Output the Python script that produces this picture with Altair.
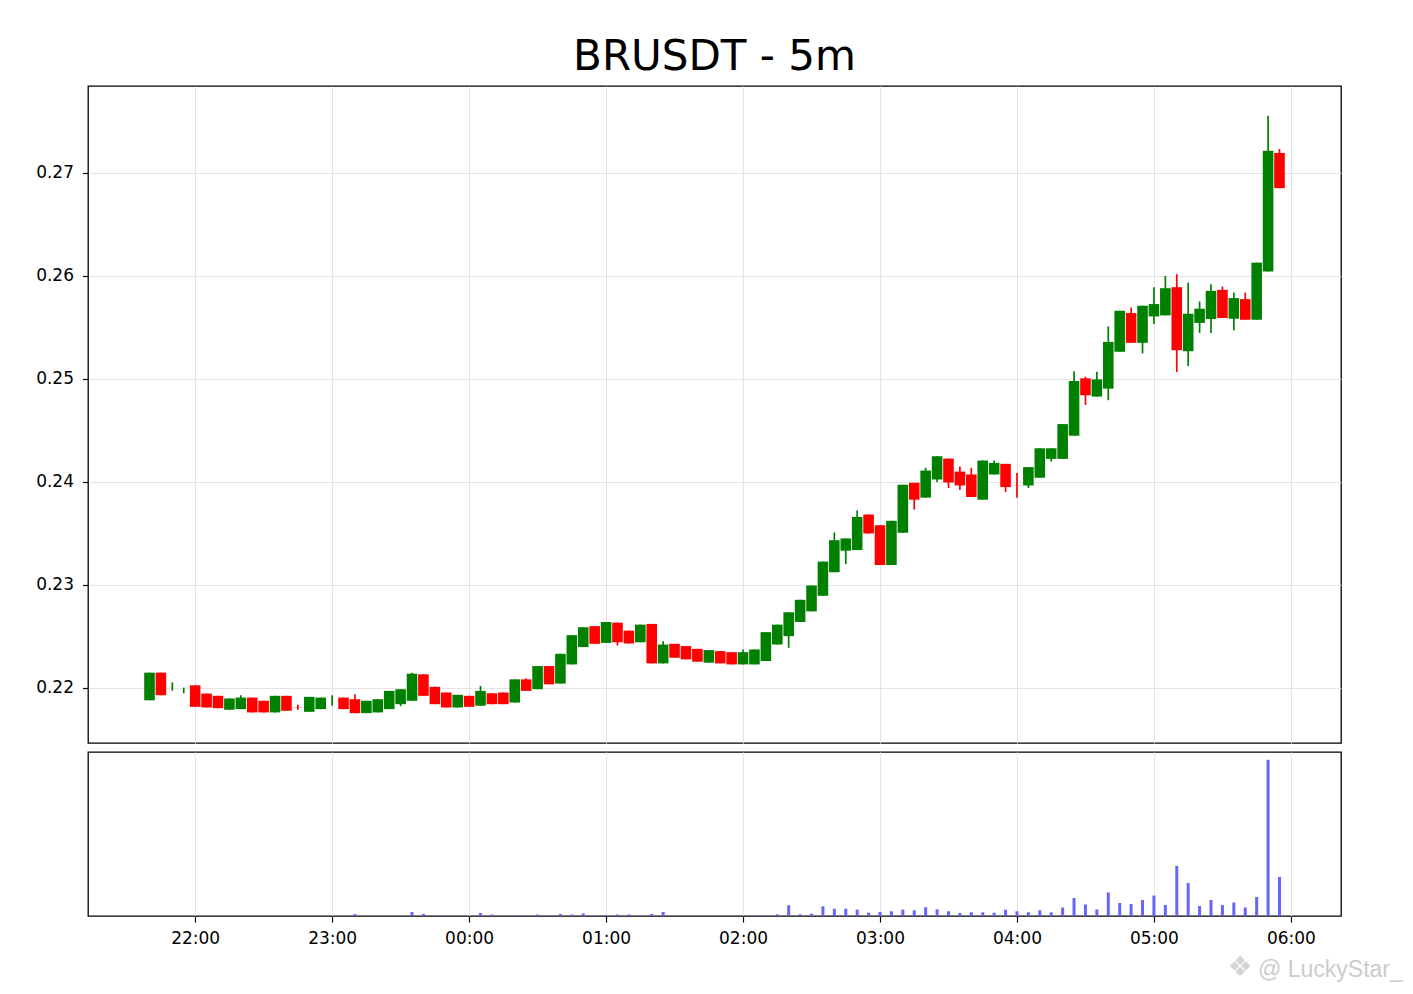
import altair as alt
import pandas as pd

FONT = "DejaVu Sans"
start = "2024-05-20 21:40:00"

opens = [0.21877, 0.22145, 0.22010, 0.21970, 0.22022, 0.21942, 0.21920, 0.21785, 0.21791, 0.21903,
         0.21872, 0.21759, 0.21920, 0.21810, 0.21765, 0.21791, 0.21870, 0.21903, 0.21887, 0.21752,
         0.21759, 0.21791, 0.21839, 0.21872, 0.22129, 0.22007, 0.21952, 0.21807, 0.21920, 0.21824,
         0.21945, 0.21952, 0.21855, 0.22080, 0.21984, 0.22209, 0.22039, 0.22225, 0.22393, 0.22596,
         0.22434, 0.22630, 0.22553, 0.22440, 0.22618, 0.22235, 0.22425, 0.22403, 0.22376, 0.22242,
         0.22354, 0.22344, 0.22225, 0.22225, 0.22258, 0.22418, 0.22499, 0.22637, 0.22740, 0.22891,
         0.23120, 0.23329, 0.23335, 0.23680, 0.23576, 0.23190, 0.23503, 0.23988, 0.23844, 0.24020,
         0.24223, 0.24097, 0.24069, 0.23824, 0.24069, 0.24172, 0.23965, 0.23962, 0.24037, 0.24220,
         0.24220, 0.24445, 0.25002, 0.24825, 0.24902, 0.25260, 0.25636, 0.25347, 0.25603, 0.25613,
         0.25887, 0.25265, 0.25540, 0.25578, 0.25861, 0.25581, 0.25771, 0.25571, 0.26038, 0.27190]

closes = [0.22145, 0.21926, 0.22010, 0.21970, 0.21813, 0.21807, 0.21800, 0.21894, 0.21903, 0.21759,
          0.21759, 0.21920, 0.21775, 0.21808, 0.21910, 0.21903, 0.21870, 0.21791, 0.21752, 0.21872,
          0.21887, 0.21968, 0.21984, 0.22135, 0.21920, 0.21839, 0.21807, 0.21930, 0.21813, 0.21968,
          0.21839, 0.21839, 0.22080, 0.21968, 0.22209, 0.22032, 0.22328, 0.22509, 0.22586, 0.22425,
          0.22637, 0.22440, 0.22428, 0.22611, 0.22235, 0.22418, 0.22290, 0.22274, 0.22251, 0.22364,
          0.22235, 0.22225, 0.22344, 0.22370, 0.22538, 0.22611, 0.22731, 0.22852, 0.22991, 0.23223,
          0.23431, 0.23448, 0.23657, 0.23496, 0.23190, 0.23619, 0.23969, 0.23824, 0.24107, 0.24246,
          0.23991, 0.23962, 0.23850, 0.24204, 0.24181, 0.23947, 0.23963, 0.24140, 0.24323, 0.24323,
          0.24558, 0.24976, 0.24838, 0.24992, 0.25356, 0.25658, 0.25347, 0.25707, 0.25723, 0.25877,
          0.25275, 0.25629, 0.25678, 0.25851, 0.25588, 0.25781, 0.25571, 0.26125, 0.27212, 0.26848]

highs = [0.22145, 0.22145, 0.22050, 0.22000, 0.22022, 0.21942, 0.21920, 0.21894, 0.21926, 0.21903,
         0.21872, 0.21920, 0.21920, 0.21834, 0.21910, 0.21903, 0.21926, 0.21903, 0.21935, 0.21872,
         0.21887, 0.21968, 0.21984, 0.22145, 0.22129, 0.22007, 0.21952, 0.21930, 0.21920, 0.22016,
         0.21945, 0.21952, 0.22080, 0.22090, 0.22209, 0.22209, 0.22328, 0.22509, 0.22586, 0.22596,
         0.22637, 0.22630, 0.22553, 0.22611, 0.22618, 0.22450, 0.22425, 0.22403, 0.22376, 0.22364,
         0.22354, 0.22344, 0.22370, 0.22370, 0.22538, 0.22611, 0.22731, 0.22852, 0.22991, 0.23223,
         0.23506, 0.23448, 0.23721, 0.23680, 0.23576, 0.23619, 0.23969, 0.23988, 0.24133, 0.24246,
         0.24223, 0.24146, 0.24133, 0.24204, 0.24204, 0.24172, 0.24082, 0.24140, 0.24323, 0.24323,
         0.24558, 0.25072, 0.25018, 0.25066, 0.25507, 0.25658, 0.25690, 0.25707, 0.25887, 0.25996,
         0.26013, 0.25931, 0.25748, 0.25916, 0.25893, 0.25835, 0.25835, 0.26125, 0.27550, 0.27229]

lows = [0.21877, 0.21926, 0.21970, 0.21945, 0.21813, 0.21807, 0.21800, 0.21785, 0.21791, 0.21759,
        0.21759, 0.21759, 0.21775, 0.21786, 0.21765, 0.21791, 0.21824, 0.21791, 0.21752, 0.21752,
        0.21759, 0.21791, 0.21820, 0.21872, 0.21920, 0.21839, 0.21807, 0.21807, 0.21813, 0.21824,
        0.21839, 0.21839, 0.21855, 0.21968, 0.21984, 0.22032, 0.22039, 0.22225, 0.22393, 0.22425,
        0.22434, 0.22408, 0.22428, 0.22440, 0.22235, 0.22235, 0.22290, 0.22274, 0.22251, 0.22242,
        0.22235, 0.22225, 0.22225, 0.22225, 0.22258, 0.22418, 0.22386, 0.22637, 0.22740, 0.22891,
        0.23120, 0.23197, 0.23335, 0.23496, 0.23190, 0.23190, 0.23503, 0.23728, 0.23844, 0.23995,
        0.23937, 0.23919, 0.23850, 0.23824, 0.24069, 0.23899, 0.23844, 0.23937, 0.24037, 0.24194,
        0.24220, 0.24445, 0.24744, 0.24825, 0.24790, 0.25260, 0.25347, 0.25243, 0.25530, 0.25613,
        0.25063, 0.25121, 0.25443, 0.25443, 0.25588, 0.25468, 0.25571, 0.25571, 0.26038, 0.26848]

volumes = [500, 300, 200, 200, 300, 300, 500, 300, 500, 300,
           200, 300, 200, 200, 500, 300, 300, 300, 1800, 300,
           300, 300, 300, 4000, 2000, 300, 500, 500, 300, 3000,
           1500, 300, 300, 500, 1500, 800, 2000, 1500, 2500, 500,
           1000, 1500, 1500, 800, 2000, 4000, 300, 300, 300, 300,
           500, 300, 500, 300, 700, 1700, 10700, 1700, 2300, 9700,
           7300, 7300, 6300, 3300, 4000, 4700, 6300, 5700, 8700, 6700,
           4700, 3000, 3700, 3700, 3300, 6300, 4700, 3700, 5700, 3700,
           8500, 18000, 11500, 6500, 23500, 13000, 12000, 16000, 20500, 11000,
           50000, 33000, 10000, 16000, 11000, 13500, 8500, 19000, 156000, 39000]

y_ticks = [0.22, 0.23, 0.24, 0.25, 0.26, 0.27]
title_text = ["BRUSDT - 5m"]
watermark_icon = ["\u2756"]
watermark_text = ["@ LuckyStar_"]

times = pd.date_range(start, periods=len(opens), freq="5min")
df = pd.DataFrame({
    "t": times.strftime("%Y-%m-%dT%H:%M:%S"),
    "open": opens, "high": highs, "low": lows, "close": closes, "volume": volumes,
})
df["dir"] = ["up" if c >= o else "down" for o, c in zip(opens, closes)]

# matplotlib-like 5% margins
span = times[-1] - times[0]
t_lo = times[0] - span * 0.05
t_hi = times[-1] + span * 0.05


def dt(ts):
    return alt.DateTime(year=ts.year, month=ts.month, date=ts.day,
                        hours=ts.hour, minutes=ts.minute, seconds=ts.second)


x_domain = [dt(t_lo), dt(t_hi)]
hours = pd.date_range(times[0].ceil("h"), t_hi.floor("h"), freq="h")
x_ticks = [dt(h) for h in hours]

p_lo, p_hi = min(lows), max(highs)
pr = p_hi - p_lo
y_domain = [p_lo - 0.05 * pr, p_hi + 0.05 * pr]

GRID = "#e4e4e4"
W = 1253
H_MAIN = 657
H_VOL = 164

xscale = alt.Scale(domain=x_domain)
color = alt.Color("dir:N", scale=alt.Scale(domain=["up", "down"], range=["#008000", "#ff0000"]), legend=None)

base = alt.Chart(df)

x_main = alt.X("t:T", scale=xscale,
               axis=alt.Axis(values=x_ticks, labels=False, ticks=False, domain=False,
                             grid=True, gridColor=GRID, gridWidth=1, title=None))
y_main = alt.Y("low:Q", scale=alt.Scale(domain=y_domain, nice=False, zero=False),
               axis=alt.Axis(values=y_ticks, format=".2f", title=None, grid=True, gridColor=GRID,
                             gridWidth=1, domain=False, tickColor="black", tickSize=5.5,
                             tickWidth=1.2, labelFont=FONT, labelFontSize=17, labelColor="black",
                             labelPadding=9))

wicks = base.mark_rule(strokeWidth=1.7).encode(x=x_main, y=y_main, y2="high:Q", color=color)
bodies = base.mark_bar(size=10.6).encode(x="t:T", y="open:Q", y2="close:Q", color=color)
title = alt.Chart(pd.DataFrame({"label": title_text})).mark_text(
    font=FONT, fontSize=42, color="black", align="center", baseline="alphabetic"
).encode(x=alt.value(W / 2), y=alt.value(-16), text="label:N")

main = alt.layer(wicks, bodies, title).properties(width=W, height=H_MAIN)

x_vol = alt.X("t:T", scale=xscale,
              axis=alt.Axis(values=x_ticks, format="%H:%M", title=None, grid=True, gridColor=GRID,
                            gridWidth=1, domain=False, tickColor="black", tickSize=6, tickWidth=1.2,
                            labelFont=FONT, labelFontSize=17, labelColor="black", labelPadding=8))
vol_bars = base.mark_bar(size=3, color="#6666ff").encode(
    x=x_vol,
    y=alt.Y("volume:Q", scale=alt.Scale(domain=[0, max(volumes) * 1.05], nice=False), axis=None),
)

wm = pd.DataFrame({"icon": watermark_icon, "name": watermark_text})
wm_icon = alt.Chart(wm).mark_text(font=FONT, fontSize=28, color="#d4d4d4", align="center",
                                   baseline="middle").encode(
    x=alt.value(1152), y=alt.value(216), text="icon:N")
wm_text = alt.Chart(wm).mark_text(font="Liberation Sans", fontSize=23, color="#cccccc", align="left",
                                   baseline="alphabetic").encode(
    x=alt.value(1170), y=alt.value(225), text="name:N")

vol = alt.layer(vol_bars, wm_icon, wm_text).properties(width=W, height=H_VOL)

chart = alt.vconcat(main, vol, spacing=9, bounds="flush").properties(
    padding={"left": 26, "top": 27, "right": 0, "bottom": 0},
    background="white",
).configure_view(stroke="black", strokeWidth=1.3)

chart.save("out.html", embed_options={"renderer": "svg", "actions": False})
